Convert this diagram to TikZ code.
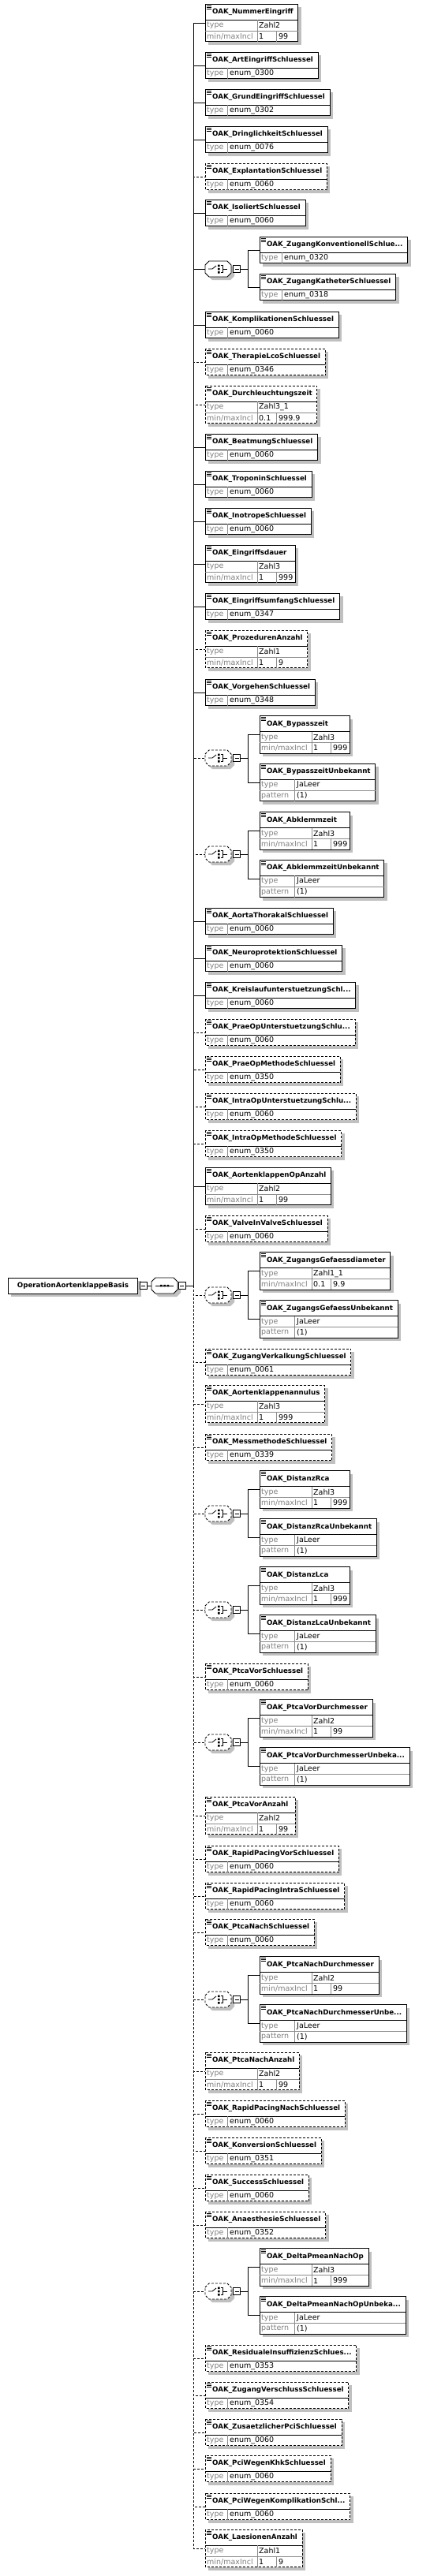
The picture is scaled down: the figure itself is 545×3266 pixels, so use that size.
\documentclass[tikz,border=0pt]{standalone}
\usepackage{fontspec}
\setmainfont{DejaVu Sans}
\usetikzlibrary{backgrounds,calc}

\definecolor{labgray}{RGB}{128,128,128}
\definecolor{shadowgray}{RGB}{192,192,192}

\newcommand\oakwidth[2]{\setbox0\hbox{#2}\ifdim\wd0<#1\hbox to #1{\unhbox0\hfil}\else\box0\fi}
\newcommand\rowfont{\fontsize{9.5}{11}\selectfont}
\newlength\cellw

\tikzset{
  hdr/.style={anchor=north west, inner sep=0pt, minimum height=20pt, font=\fontsize{8.7}{10}\selectfont\bfseries},
  lab/.style={anchor=west, inner sep=0pt, text=labgray, font=\rowfont},
  val/.style={anchor=west, inner sep=0pt, font=\rowfont},
  box/.style={draw=black, line width=0.9pt},
  rowline/.style={draw=black!45, line width=0.8pt},
  conn/.style={draw=black, line width=1pt},
  shade/.style={fill=shadowgray},
  req/.style={},
  opt/.style={dash pattern=on 3pt off 2pt},
  comp/.style={inner sep=0pt, minimum width=33pt, minimum height=20pt},
}

% element box: name, x, y, header, border, height, min width
\newcommand\oakframe[7]{%
  \pgfmathsetmacro\boxT{-#3+#6/2}%
  \pgfmathsetmacro\boxH{\boxT-20}%
  \pgfmathsetmacro\boxB{-#3-#6/2}%
  \coordinate (#1) at (#2,-#3);
  \node[hdr] (#1h) at (#2,\boxT) {\oakwidth{#7}{\hspace{9pt}OAK\_#4\hspace{6pt}}};
  \path let \p1=(#1h.east) in (\x1,\boxB) coordinate (#1r);
  \begin{scope}[on background layer]
    \fill[shade] ([shift={(4,-4)}]#1h.north west) rectangle ([shift={(4,-4)}]#1r);
    \fill[white] (#1h.north west) rectangle (#1r);
  \end{scope}
  \draw[line width=0.8pt] (#2,\boxH) -- (#1r |- 0,\boxH);
  \draw[box,#5] (#1h.north west) rectangle (#1r);
  \foreach \k in {2,4,6} \draw[line width=0.6pt] (#2+2,\boxT-\k) -- (#2+8,\boxT-\k);
}

% type only
\newcommand\oakT[6]{%
  \oakframe{#1}{#2}{#3}{#4}{#5}{33.5}{90pt}%
  \node[lab] at (#2+2,\boxH-6.75) {type};
  \draw[rowline] (#2+28,\boxH) -- (#2+28,\boxB);
  \node[val] at (#2+31,\boxH-6.75) {#6};
}

% type + min/max
\newcommand\oakM[8]{%
  \settowidth\cellw{\rowfont #7}\pgfmathsetmacro\cellA{max(24,\the\cellw+8)}%
  \settowidth\cellw{\rowfont #8}\pgfmathsetmacro\cellB{max(24,\the\cellw+7)}%
  \pgfmathsetmacro\cellS{66+\cellA+\cellB}%
  \oakframe{#1}{#2}{#3}{#4}{#5}{47.5}{\cellS pt}%
  \node[lab] at (#2+2,\boxH-7) {type};
  \node[lab] at (#2+2,\boxH-20.75) {min/maxIncl};
  \draw[rowline] (#2,\boxH-14) -- (#1r |- 0,\boxH-14);
  \draw[rowline] (#2+66,\boxH) -- (#2+66,\boxB);
  \draw[rowline] (#2+66+\cellA,\boxH-14) -- (#2+66+\cellA,\boxB);
  \node[val] at (#2+68,\boxH-7) {#6};
  \node[val] at (#2+68,\boxH-20.75) {#7};
  \node[val] at (#2+69+\cellA,\boxH-20.75) {#8};
}

% type + pattern
\newcommand\oakP[6]{%
  \oakframe{#1}{#2}{#3}{#4}{#5}{47.5}{90pt}%
  \node[lab] at (#2+2,\boxH-7) {type};
  \node[lab] at (#2+2,\boxH-20.75) {pattern};
  \draw[rowline] (#2,\boxH-14) -- (#1r |- 0,\boxH-14);
  \draw[rowline] (#2+44,\boxH) -- (#2+44,\boxB);
  \node[val] at (#2+47,\boxH-7) {#6};
  \node[val] at (#2+47,\boxH-20.75) {(1)};
}

% choice compositor: name, x, y, border
\newcommand\oakchoice[4]{%
  \node[comp] (#1) at (#2+16.5,-#3) {};
  \begin{scope}[on background layer]
    \fill[shade] (#2+4,-#3+1) -- ++(5,5) -- ++(23,0) -- ++(5,-5) -- ++(0,-10) -- ++(-5,-5) -- ++(-23,0) -- ++(-5,5) -- cycle;
    \fill[white] (#2,-#3+5) -- ++(5,5) -- ++(23,0) -- ++(5,-5) -- ++(0,-10) -- ++(-5,-5) -- ++(-23,0) -- ++(-5,5) -- cycle;
  \end{scope}
  \draw[box,#4] (#2,-#3+5) -- ++(5,5) -- ++(23,0) -- ++(5,-5) -- ++(0,-10) -- ++(-5,-5) -- ++(-23,0) -- ++(-5,5) -- cycle;
  \draw[line width=0.8pt] (#2+4,-#3) -- ++(5,0) -- ++(5,4);
  \fill (#2+16,-#3+5.5) rectangle ++(2.5,-2.5) (#2+16,-#3+1.25) rectangle ++(2.5,-2.5) (#2+16,-#3-3) rectangle ++(2.5,-2.5);
  \draw[line width=0.8pt] (#2+19.5,-#3+4.25) -- ++(3,0) -- ++(0,-8.5) -- ++(-3,0) (#2+22.5,-#3) -- ++(5,0);
  \draw[line width=0.8pt, fill=white] (#2+35.5,-#3-4.5) rectangle ++(9,9);
  \draw[line width=0.8pt] (#2+37.5,-#3) -- ++(5,0);
  \coordinate (#1x) at (#2+44.5,-#3);
  \coordinate (#1bus) at (#2+54,-#3);
}

\begin{document}
\begin{tikzpicture}[x=1pt,y=1pt]
\useasboundingbox (0,0) rectangle (545,-3266);
\begin{scope}[on background layer]
  \fill[white] (0,0) rectangle (545,-3266);
\end{scope}

% root and sequence
\node[anchor=west, draw, line width=0.9pt, fill=white, minimum height=20pt, minimum width=164pt,
  inner xsep=8pt, font=\fontsize{8.7}{10}\selectfont\bfseries] (root) at (10,-1630) {OperationAortenklappeBasis};
\begin{scope}[on background layer]
  \fill[shade] ([shift={(4,-4)}]root.south west) rectangle ([shift={(4,-4)}]root.north east);
\end{scope}
\draw[line width=0.8pt, fill=white] ([shift={(2,-4.5)}]root.east) rectangle ++(9,9);
\draw[line width=0.8pt] ([xshift=4]root.east) -- ++(5,0);
\coordinate (rootx) at ([xshift=11]root.east);
\node[comp] (seq) at (208.5,-1630) {};
\begin{scope}[on background layer]
  \fill[shade] (196,-1629) -- ++(5,5) -- ++(23,0) -- ++(5,-5) -- ++(0,-10) -- ++(-5,-5) -- ++(-23,0) -- ++(-5,5) -- cycle;
\end{scope}
\draw[box, fill=white] (192,-1625) -- ++(5,5) -- ++(23,0) -- ++(5,-5) -- ++(0,-10) -- ++(-5,-5) -- ++(-23,0) -- ++(-5,5) -- cycle;
\draw[line width=0.8pt] (197,-1630) -- (220,-1630);
\fill (203,-1628.75) rectangle ++(2.5,-2.5) (207.25,-1628.75) rectangle ++(2.5,-2.5) (211.5,-1628.75) rectangle ++(2.5,-2.5);
\draw[line width=0.8pt, fill=white] (226,-1634.5) rectangle ++(9,9);
\draw[line width=0.8pt] (228,-1630) -- ++(5,0);
\coordinate (seqx) at (235,-1630);
\coordinate (bus) at (245,-1630);
\draw[conn] (rootx) -- (seq.west);

% children
\oakM{e01}{260}{29}{NummerEingriff}{req}{Zahl2}{1}{99}
\oakT{e02}{260}{83}{ArtEingriffSchluessel}{req}{enum\_0300}
\oakT{e03}{260}{130}{GrundEingriffSchluessel}{req}{enum\_0302}
\oakT{e04}{260}{177}{DringlichkeitSchluessel}{req}{enum\_0076}
\oakT{e05}{260}{224}{ExplantationSchluessel}{opt}{enum\_0060}
\oakT{e06}{260}{270}{IsoliertSchluessel}{req}{enum\_0060}
\oakchoice{c07}{260}{341}{req}
\oakT{c07a}{329}{317}{ZugangKonventionellSchlue...}{req}{enum\_0320}
\oakT{c07b}{329}{364}{ZugangKatheterSchluessel}{req}{enum\_0318}
\oakT{e08}{260}{412}{KomplikationenSchluessel}{req}{enum\_0060}
\oakT{e09}{260}{459}{TherapieLcoSchluessel}{opt}{enum\_0346}
\oakM{e10}{260}{513}{Durchleuchtungszeit}{opt}{Zahl3\_1}{0.1}{999.9}
\oakT{e11}{260}{567}{BeatmungSchluessel}{req}{enum\_0060}
\oakT{e12}{260}{614}{TroponinSchluessel}{req}{enum\_0060}
\oakT{e13}{260}{661}{InotropeSchluessel}{req}{enum\_0060}
\oakM{e14}{260}{715}{Eingriffsdauer}{req}{Zahl3}{1}{999}
\oakT{e15}{260}{769}{EingriffsumfangSchluessel}{req}{enum\_0347}
\oakM{e16}{260}{823}{ProzedurenAnzahl}{opt}{Zahl1}{1}{9}
\oakT{e17}{260}{878}{VorgehenSchluessel}{req}{enum\_0348}
\oakchoice{c18}{260}{961}{opt}
\oakM{c18a}{329}{931.5}{Bypasszeit}{req}{Zahl3}{1}{999}
\oakP{c18b}{329}{992}{BypasszeitUnbekannt}{req}{JaLeer}
\oakchoice{c19}{260}{1083}{opt}
\oakM{c19a}{329}{1053.5}{Abklemmzeit}{req}{Zahl3}{1}{999}
\oakP{c19b}{329}{1114}{AbklemmzeitUnbekannt}{req}{JaLeer}
\oakT{e20}{260}{1168}{AortaThorakalSchluessel}{req}{enum\_0060}
\oakT{e21}{260}{1215}{NeuroprotektionSchluessel}{req}{enum\_0060}
\oakT{e22}{260}{1262}{KreislaufunterstuetzungSchl...}{req}{enum\_0060}
\oakT{e23}{260}{1309}{PraeOpUnterstuetzungSchlu...}{opt}{enum\_0060}
\oakT{e24}{260}{1356}{PraeOpMethodeSchluessel}{opt}{enum\_0350}
\oakT{e25}{260}{1403}{IntraOpUnterstuetzungSchlu...}{opt}{enum\_0060}
\oakT{e26}{260}{1450}{IntraOpMethodeSchluessel}{opt}{enum\_0350}
\oakM{e27}{260}{1504}{AortenklappenOpAnzahl}{req}{Zahl2}{1}{99}
\oakT{e28}{260}{1558}{ValveInValveSchluessel}{opt}{enum\_0060}
\oakchoice{c29}{260}{1642}{opt}
\oakM{c29a}{329}{1611.5}{ZugangsGefaessdiameter}{req}{Zahl1\_1}{0.1}{9.9}
\oakP{c29b}{329}{1672.5}{ZugangsGefaessUnbekannt}{req}{JaLeer}
\oakT{e30}{260}{1727}{ZugangVerkalkungSchluessel}{opt}{enum\_0061}
\oakM{e31}{260}{1780}{Aortenklappenannulus}{opt}{Zahl3}{1}{999}
\oakT{e32}{260}{1835}{MessmethodeSchluessel}{opt}{enum\_0339}
\oakchoice{c33}{260}{1919}{opt}
\oakM{c33a}{329}{1888.5}{DistanzRca}{req}{Zahl3}{1}{999}
\oakP{c33b}{329}{1949.5}{DistanzRcaUnbekannt}{req}{JaLeer}
\oakchoice{c34}{260}{2041}{opt}
\oakM{c34a}{329}{2010.5}{DistanzLca}{req}{Zahl3}{1}{999}
\oakP{c34b}{329}{2071.5}{DistanzLcaUnbekannt}{req}{JaLeer}
\oakT{e35}{260}{2126}{PtcaVorSchluessel}{opt}{enum\_0060}
\oakchoice{c36}{260}{2209}{opt}
\oakM{c36a}{329}{2178.5}{PtcaVorDurchmesser}{req}{Zahl2}{1}{99}
\oakP{c36b}{329}{2239.5}{PtcaVorDurchmesserUnbeka...}{req}{JaLeer}
\oakM{e37}{260}{2302}{PtcaVorAnzahl}{opt}{Zahl2}{1}{99}
\oakT{e38}{260}{2357}{RapidPacingVorSchluessel}{opt}{enum\_0060}
\oakT{e39}{260}{2404}{RapidPacingIntraSchluessel}{opt}{enum\_0060}
\oakT{e40}{260}{2450}{PtcaNachSchluessel}{opt}{enum\_0060}
\oakchoice{c41}{260}{2535}{opt}
\oakM{c41a}{329}{2504.5}{PtcaNachDurchmesser}{req}{Zahl2}{1}{99}
\oakP{c41b}{329}{2565.5}{PtcaNachDurchmesserUnbe...}{req}{JaLeer}
\oakM{e42}{260}{2626}{PtcaNachAnzahl}{opt}{Zahl2}{1}{99}
\oakT{e43}{260}{2680}{RapidPacingNachSchluessel}{opt}{enum\_0060}
\oakT{e44}{260}{2727}{KonversionSchluessel}{opt}{enum\_0351}
\oakT{e45}{260}{2774}{SuccessSchluessel}{opt}{enum\_0060}
\oakT{e46}{260}{2821}{AnaesthesieSchluessel}{opt}{enum\_0352}
\oakchoice{c47}{260}{2905}{opt}
\oakM{c47a}{329}{2874.5}{DeltaPmeanNachOp}{req}{Zahl3}{1}{999}
\oakP{c47b}{329}{2935.5}{DeltaPmeanNachOpUnbeka...}{req}{JaLeer}
\oakT{e48}{260}{2990}{ResidualeInsuffizienzSchlues...}{opt}{enum\_0353}
\oakT{e49}{260}{3037}{ZugangVerschlussSchluessel}{opt}{enum\_0354}
\oakT{e50}{260}{3084}{ZusaetzlicherPciSchluessel}{opt}{enum\_0060}
\oakT{e51}{260}{3130}{PciWegenKhkSchluessel}{opt}{enum\_0060}
\oakT{e52}{260}{3178}{PciWegenKomplikationSchl...}{opt}{enum\_0060}
\oakM{e53}{260}{3231}{LaesionenAnzahl}{opt}{Zahl1}{1}{9}

% connectors: optional first, required on top
\foreach \e in {e05,e09,e10,e16,c18.west,c19.west,e23,e24,e25,e26,e28,c29.west,e30,e31,e32,c33.west,c34.west,
  e35,c36.west,e37,e38,e39,e40,c41.west,e42,e43,e44,e45,e46,c47.west,e48,e49,e50,e51,e52,e53}
  \draw[conn,opt] (seqx) -- (bus) |- (\e);
\foreach \e in {e01,e02,e03,e04,e06,c07.west,e08,e11,e12,e13,e14,e15,e17,e20,e21,e22,e27}
  \draw[conn] (seqx) -- (bus) |- (\e);
\foreach \comp in {c07,c18,c19,c29,c33,c34,c36,c41,c47}
  \foreach \s in {a,b}
    \draw[conn] (\comp x) -- (\comp bus) |- (\comp\s);
\end{tikzpicture}
\end{document}
